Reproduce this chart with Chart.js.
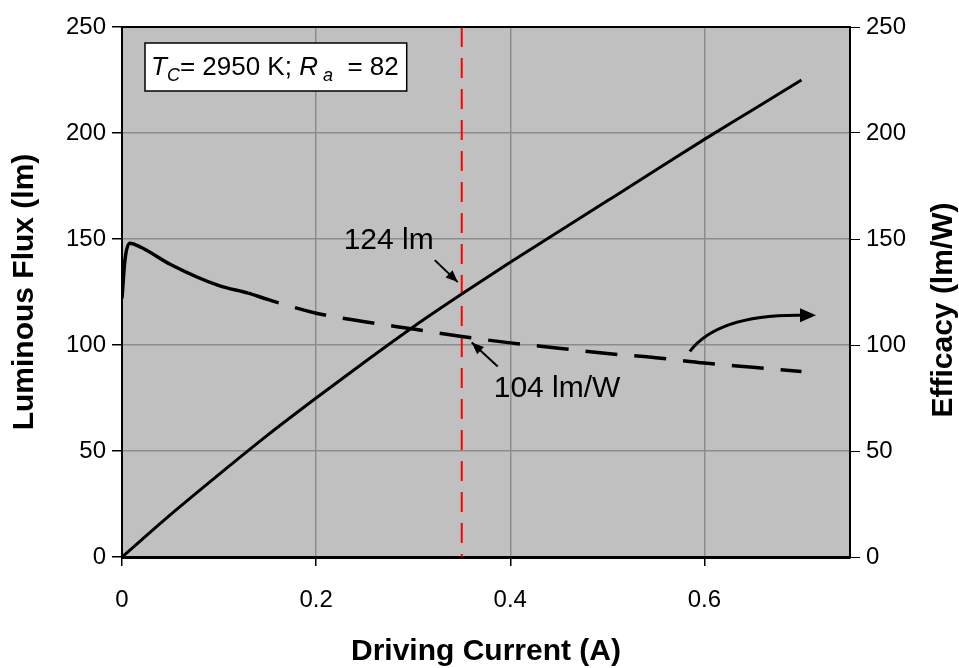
<!DOCTYPE html>
<html>
<head>
<meta charset="utf-8">
<script src="https://cdn.jsdelivr.net/npm/chart.js@4.4.0/dist/chart.umd.min.js"></script>
<style>
  html, body { margin: 0; padding: 0; background: #fff; }
</style>
</head>
<body>
<canvas id="chart" width="959" height="668"></canvas>
<script>
// axis ticks
const xTicks = [0, 0.2, 0.4, 0.6]
const yTicks = [0, 50, 100, 150, 200, 250]

// luminous flux (lm) vs driving current (A)
const fluxCurrent = [0, 0.05, 0.1, 0.15, 0.2, 0.25, 0.3, 0.35, 0.4, 0.45, 0.5, 0.55, 0.6, 0.65, 0.7]
const fluxLm = [0, 20, 39, 57.5, 75, 92, 108.5, 124, 139, 153.5, 168, 182.5, 197, 211, 225]

// efficacy (lm/W) vs driving current (A)
const effCurrent = [0, 0.003, 0.008, 0.02, 0.05, 0.1, 0.13, 0.15, 0.2, 0.25, 0.3, 0.35, 0.4, 0.45, 0.5, 0.55, 0.6, 0.65, 0.7]
const effLmW = [122, 140, 148, 146, 138, 128, 124.5, 121.5, 115, 111, 107.5, 104, 101, 98.5, 96, 94, 91.5, 89.5, 87.5]

// operating point marker
const markerCurrent = 0.35
const markerFlux = 124
const markerEff = 104

const FONT = "'Liberation Sans', Arial, sans-serif"

function toPoints (xs, ys) {
  return xs.map((x, i) => ({ x, y: ys[i] }))
}

function arrowHead (ctx, x1, y1, x2, y2, len, wid) {
  const a = Math.atan2(y2 - y1, x2 - x1)
  ctx.beginPath()
  ctx.moveTo(x2, y2)
  ctx.lineTo(x2 - len * Math.cos(a) + wid / 2 * Math.sin(a), y2 - len * Math.sin(a) - wid / 2 * Math.cos(a))
  ctx.lineTo(x2 - len * Math.cos(a) - wid / 2 * Math.sin(a), y2 - len * Math.sin(a) + wid / 2 * Math.cos(a))
  ctx.closePath()
  ctx.fill()
}

function straightArrow (ctx, x1, y1, x2, y2) {
  ctx.beginPath()
  ctx.moveTo(x1, y1)
  ctx.lineTo(x2, y2)
  ctx.stroke()
  arrowHead(ctx, x1, y1, x2, y2, 12, 10)
}

const plotDecor = {
  id: 'plotDecor',
  beforeDraw (chart) {
    const { ctx, chartArea: a } = chart
    ctx.save()
    ctx.fillStyle = '#c0c0c0'
    ctx.fillRect(a.left, a.top, a.right - a.left, a.bottom - a.top)
    ctx.restore()
  },
  beforeDatasetsDraw (chart) {
    const { ctx, chartArea: a, scales } = chart
    const xm = scales.x.getPixelForValue(markerCurrent)
    ctx.save()
    ctx.strokeStyle = '#ff0000'
    ctx.lineWidth = 2
    ctx.setLineDash([20, 11])
    ctx.beginPath()
    ctx.moveTo(xm, a.top)
    ctx.lineTo(xm, a.bottom)
    ctx.stroke()
    ctx.restore()
  },
  afterDatasetsDraw (chart) {
    const { ctx, chartArea: a, scales } = chart
    ctx.save()
    // top border
    ctx.strokeStyle = '#000'
    ctx.lineWidth = 2
    ctx.beginPath()
    ctx.moveTo(a.left, a.top)
    ctx.lineTo(a.right, a.top)
    ctx.stroke()

    // T_C / R_a box
    const bx = a.left + 23
    const by = a.top + 16
    ctx.textBaseline = 'alphabetic'
    const parts = [
      { t: 'T', f: 'italic 26px ' + FONT, dy: 0 },
      { t: 'C', f: 'italic 18px ' + FONT, dy: 6 },
      { t: '= 2950 K; ', f: '26px ' + FONT, dy: 0 },
      { t: 'R', f: 'italic 26px ' + FONT, dy: 0 },
      { t: ' a', f: 'italic 18px ' + FONT, dy: 6 },
      { t: '  = 82', f: '26px ' + FONT, dy: 0 }
    ]
    let w = 0
    for (const p of parts) { ctx.font = p.f; w += ctx.measureText(p.t).width }
    ctx.fillStyle = '#fff'
    ctx.fillRect(bx, by, w + 14, 48)
    ctx.lineWidth = 1.5
    ctx.strokeRect(bx, by, w + 14, 48)
    ctx.fillStyle = '#000'
    let tx = bx + 6
    for (const p of parts) {
      ctx.font = p.f
      ctx.fillText(p.t, tx, by + 32 + p.dy)
      tx += ctx.measureText(p.t).width
    }

    // operating point annotations
    const xm = scales.x.getPixelForValue(markerCurrent)
    const yf = scales.y.getPixelForValue(markerFlux)
    const ye = scales.y2.getPixelForValue(markerEff)
    ctx.fillStyle = '#000'
    ctx.strokeStyle = '#000'
    ctx.lineWidth = 2
    ctx.font = '30px ' + FONT
    ctx.textBaseline = 'middle'
    ctx.textAlign = 'right'
    ctx.fillText(markerFlux + ' lm', xm - 28, yf - 53)
    straightArrow(ctx, xm - 27, yf - 34, xm - 4, yf - 12)
    ctx.textAlign = 'left'
    ctx.fillText(markerEff + ' lm/W', xm + 32, ye + 52)
    straightArrow(ctx, xm + 36, ye + 30, xm + 10, ye + 6)

    // curved arrow pointing to right axis
    const x0 = scales.x.getPixelForValue(0.585)
    const y0 = scales.y2.getPixelForValue(97)
    const x1 = scales.x.getPixelForValue(0.715)
    const y1 = scales.y2.getPixelForValue(114)
    const cx = scales.x.getPixelForValue(0.615)
    const cy = scales.y2.getPixelForValue(115)
    ctx.lineWidth = 3
    ctx.beginPath()
    ctx.moveTo(x0, y0)
    ctx.quadraticCurveTo(cx, cy, x1 - 10, y1)
    ctx.stroke()
    arrowHead(ctx, x1 - 20, y1, x1, y1, 16, 14)

    // right axis title, reading bottom to top
    ctx.font = 'bold 30px ' + FONT
    ctx.textAlign = 'center'
    ctx.textBaseline = 'middle'
    ctx.translate(chart.width - 15, (a.top + a.bottom) / 2 + 18)
    ctx.rotate(-Math.PI / 2)
    ctx.fillText('Efficacy (lm/W)', 0, 0)
    ctx.restore()
  }
}

Chart.defaults.font.family = FONT
Chart.defaults.color = '#000'

new Chart(document.getElementById('chart'), {
  type: 'line',
  data: {
    datasets: [
      {
        label: 'Luminous Flux',
        data: toPoints(fluxCurrent, fluxLm),
        yAxisID: 'y',
        borderColor: '#000',
        borderWidth: 3,
        pointRadius: 0,
        cubicInterpolationMode: 'monotone'
      },
      {
        label: 'Efficacy',
        data: toPoints(effCurrent, effLmW),
        yAxisID: 'y2',
        borderColor: '#000',
        borderWidth: 3.5,
        pointRadius: 0,
        cubicInterpolationMode: 'monotone',
        segment: {
          borderDash: ctx => ctx.p0.parsed.x < 0.13 ? [] : [32, 17]
        }
      }
    ]
  },
  options: {
    responsive: false,
    animation: false,
    layout: { padding: { top: 27, left: 0, right: 0, bottom: 0 } },
    plugins: {
      legend: { display: false },
      tooltip: { enabled: false }
    },
    scales: {
      x: {
        type: 'linear',
        min: 0,
        max: 0.75,
        afterBuildTicks: s => { s.ticks = xTicks.map(v => ({ value: v })) },
        afterFit: s => { s.height = 111 },
        grid: { color: '#8c8c8c', lineWidth: 1.5, tickColor: '#000', tickLength: 9 },
        border: { color: '#000', width: 3 },
        ticks: { font: { size: 24 }, padding: 20, maxRotation: 0, callback: v => String(v) },
        title: {
          display: true,
          text: 'Driving Current (A)',
          font: { size: 30, weight: 'bold', lineHeight: 1 },
          padding: { top: 0, bottom: 1 }
        }
      },
      y: {
        position: 'left',
        min: 0,
        max: 250,
        afterBuildTicks: s => { s.ticks = yTicks.map(v => ({ value: v })) },
        afterFit: s => { s.width = 122 },
        grid: { color: '#8c8c8c', lineWidth: 1.5, tickColor: '#000', tickLength: 10 },
        border: { color: '#000', width: 2 },
        ticks: { font: { size: 24 }, padding: 6 },
        title: {
          display: true,
          text: 'Luminous Flux (lm)',
          font: { size: 30, weight: 'bold', lineHeight: 1 },
          padding: { top: 10, bottom: 0 }
        }
      },
      y2: {
        position: 'right',
        min: 0,
        max: 250,
        afterBuildTicks: s => { s.ticks = yTicks.map(v => ({ value: v })) },
        afterFit: s => { s.width = 109 },
        grid: { drawOnChartArea: false, tickColor: '#000', tickLength: 10 },
        border: { color: '#000', width: 2 },
        ticks: { font: { size: 24 }, padding: 6 }
      }
    }
  },
  plugins: [plotDecor]
})
</script>
</body>
</html>
